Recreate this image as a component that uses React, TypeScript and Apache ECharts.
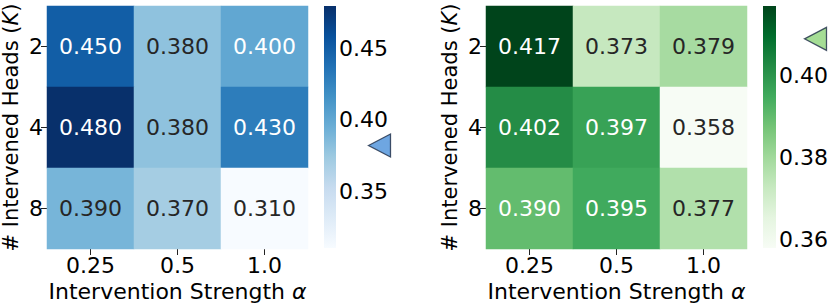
import React, { useEffect, useRef } from "react";
import * as echarts from "echarts";

const xCats = ["0.25", "0.5", "1.0"];
const yCats = ["2", "4", "8"];
const leftValues = [
  [0.45, 0.38, 0.4],
  [0.48, 0.38, 0.43],
  [0.39, 0.37, 0.31],
];
const rightValues = [
  [0.417, 0.373, 0.379],
  [0.402, 0.397, 0.358],
  [0.39, 0.395, 0.377],
];
const leftTicks = [0.35, 0.4, 0.45];
const rightTicks = [0.36, 0.38, 0.4];
const leftBaseline = 0.382;
const rightBaseline = 0.409;

const BLUES = ["#f7fbff", "#deebf7", "#c6dbef", "#9ecae1", "#6baed6", "#4292c6", "#2171b5", "#08519c", "#08306b"];
const GREENS = ["#f7fcf5", "#e5f5e0", "#c7e9c0", "#a1d99b", "#74c476", "#41ab5d", "#238b45", "#006d2c", "#00441b"];

const FONT = "DejaVu Sans";
const FS = 22;
const FS_YNAME = 21;

function hexToRgb(h: string) {
  const n = parseInt(h.slice(1), 16);
  return [(n >> 16) & 255, (n >> 8) & 255, n & 255];
}

function cmap(stops: string[], t: number) {
  let idx = Math.floor(Math.max(0, Math.min(1, t)) * 256);
  if (idx > 255) idx = 255;
  const q = idx / 255;
  const seg = q * (stops.length - 1);
  const i = Math.min(stops.length - 2, Math.floor(seg));
  const f = seg - i;
  const a = hexToRgb(stops[i]);
  const b = hexToRgb(stops[i + 1]);
  return [0, 1, 2].map((k) => a[k] + (b[k] - a[k]) * f);
}

function lum(rgb: number[]) {
  const lin = rgb.map((c) => {
    const v = c / 255;
    return v <= 0.03928 ? v / 12.92 : Math.pow((v + 0.055) / 1.055, 2.4);
  });
  return 0.2126 * lin[0] + 0.7152 * lin[1] + 0.0722 * lin[2];
}

function buildHeat(values: number[][], stops: string[]) {
  const flat = values.flat();
  const vmin = Math.min(...flat);
  const vmax = Math.max(...flat);
  const data: any[] = [];
  values.forEach((row, yi) =>
    row.forEach((v, xi) => {
      const rgb = cmap(stops, (v - vmin) / (vmax - vmin));
      data.push({
        value: [xi, yi, v],
        label: { color: lum(rgb) > 0.408 ? "#262626" : "#ffffff" },
      });
    })
  );
  return { data, vmin, vmax };
}

export default function App() {
  const ref = useRef<HTMLDivElement>(null);
  useEffect(() => {
    if (!ref.current) return;
    const chart = echarts.init(ref.current, undefined, { renderer: "svg" });
    const L = buildHeat(leftValues, BLUES);
    const R = buildHeat(rightValues, GREENS);

    const heatGrid = (left: number) => ({
      left,
      top: 6,
      width: 261,
      height: 243,
      containLabel: false,
      outerBoundsMode: "none",
    });
    const barGrid = (left: number, width: number) => ({
      left,
      top: 6,
      width,
      height: 242,
      containLabel: false,
      outerBoundsMode: "none",
    });

    const grids = [
      heatGrid(47),
      barGrid(324, 12),
      barGrid(369, 21),
      heatGrid(486),
      barGrid(763, 13),
      barGrid(805, 21),
    ];

    const rich = (fs: number) => ({
      i: { fontStyle: "italic", fontFamily: FONT, fontSize: fs, color: "#000" },
    });

    const heatX = (gi: number) => ({
      type: "category",
      gridIndex: gi,
      data: xCats,
      axisLine: { show: false },
      axisTick: { show: true, alignWithLabel: true, length: 6, lineStyle: { color: "#222" } },
      axisLabel: { fontFamily: FONT, fontSize: FS, color: "#000", margin: 5 },
      name: "Intervention Strength {i|α}",
      nameLocation: "middle",
      nameGap: 27,
      nameTextStyle: { fontFamily: FONT, fontSize: FS, color: "#000", rich: rich(FS) },
      splitLine: { show: false },
    });
    const heatY = (gi: number) => ({
      type: "category",
      gridIndex: gi,
      data: yCats,
      inverse: true,
      axisLine: { show: false },
      axisTick: { show: true, alignWithLabel: true, length: 6, lineStyle: { color: "#222" } },
      axisLabel: { fontFamily: FONT, fontSize: FS, color: "#000", margin: 4 },
      name: "# Intervened Heads ({i|K})",
      nameLocation: "middle",
      nameGap: 26,
      nameTextStyle: { fontFamily: FONT, fontSize: FS_YNAME, color: "#000", rich: rich(FS_YNAME) },
      splitLine: { show: false },
    });
    const hiddenX = (gi: number) => ({
      type: "value",
      gridIndex: gi,
      min: 0,
      max: 1,
      show: false,
    });
    const barY = (gi: number, vmin: number, vmax: number, ticks: number[]) => ({
      type: "value",
      gridIndex: gi,
      position: "right",
      min: vmin,
      max: vmax,
      axisLine: { show: false },
      splitLine: { show: false },
      axisTick: { show: true, length: 4, customValues: ticks, lineStyle: { color: "#222" } },
      axisLabel: {
        customValues: ticks,
        fontFamily: FONT,
        fontSize: FS,
        color: "#000",
        margin: 3,
        formatter: (v: number) => v.toFixed(2),
      },
    });
    const markY = (gi: number, vmin: number, vmax: number) => ({
      type: "value",
      gridIndex: gi,
      min: vmin,
      max: vmax,
      show: false,
    });

    const gradient = (stops: string[]) =>
      new echarts.graphic.LinearGradient(
        0,
        1,
        0,
        0,
        stops.map((c, i) => ({ offset: i / (stops.length - 1), color: c }))
      );

    const colorbar = (xi: number, yi: number, stops: string[], vmax: number) => ({
      type: "custom",
      xAxisIndex: xi,
      yAxisIndex: yi,
      data: [[0.5, vmax]],
      silent: true,
      renderItem: (params: any) => {
        const cs = params.coordSys;
        return {
          type: "rect",
          shape: { x: cs.x, y: cs.y, width: cs.width, height: cs.height },
          style: { fill: gradient(stops) },
        };
      },
    });

    const heatLabel = {
      show: true,
      fontFamily: FONT,
      fontSize: FS,
      formatter: (p: any) => p.value[2].toFixed(3),
    };

    const marker = (gi: number, v: number, color: string) => ({
      type: "scatter",
      xAxisIndex: gi,
      yAxisIndex: gi,
      data: [[0.5, v]],
      symbol: "triangle",
      symbolRotate: 90,
      symbolSize: [23, 22],
      itemStyle: { color, borderColor: "#1b2a45", borderWidth: 1.3 },
      silent: true,
    });

    chart.setOption({
      animation: false,
      visualMap: [
        {
          type: "continuous",
          show: false,
          seriesIndex: 0,
          dimension: 2,
          min: L.vmin,
          max: L.vmax,
          inRange: { color: BLUES },
        },
        {
          type: "continuous",
          show: false,
          seriesIndex: 3,
          dimension: 2,
          min: R.vmin,
          max: R.vmax,
          inRange: { color: GREENS },
        },
      ],
      grid: grids,
      xAxis: [heatX(0), hiddenX(1), hiddenX(2), heatX(3), hiddenX(4), hiddenX(5)],
      yAxis: [
        heatY(0),
        barY(1, L.vmin, L.vmax, leftTicks),
        markY(2, L.vmin, L.vmax),
        heatY(3),
        barY(4, R.vmin, R.vmax, rightTicks),
        markY(5, R.vmin, R.vmax),
      ],
      series: [
        { type: "heatmap", xAxisIndex: 0, yAxisIndex: 0, data: L.data, label: heatLabel },
        colorbar(1, 1, BLUES, L.vmax),
        marker(2, leftBaseline, "#4a90d9"),
        { type: "heatmap", xAxisIndex: 3, yAxisIndex: 3, data: R.data, label: heatLabel },
        colorbar(4, 4, GREENS, R.vmax),
        marker(5, rightBaseline, "#8fd47a"),
      ],
    });
    return () => chart.dispose();
  }, []);
  return (
    <div
      ref={ref}
      style={{ position: "absolute", left: 0, top: 0, width: 830, height: 303, background: "#fff" }}
    />
  );
}
